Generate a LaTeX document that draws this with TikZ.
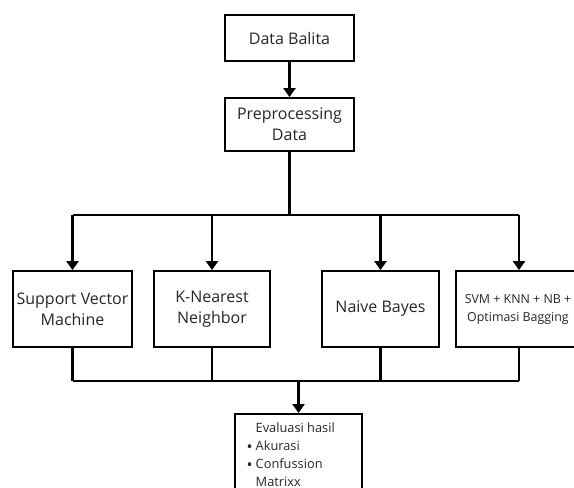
\documentclass[tikz,border=0pt]{standalone}
\usepackage{fontspec}
\setmainfont{Open Sans}
\usetikzlibrary{arrows.meta}
\newcommand{\evbullet}{\raisebox{-2pt}{\fontsize{16}{18}\selectfont•}}
\begin{document}
\begin{tikzpicture}[x=1pt,y=-1pt,
  box/.style={draw=black,line width=1.8pt,inner sep=0pt,align=center,text=black!85,
    font=\fontsize{16}{21}\selectfont},
  conn/.style={line width=2.3pt},
  arr/.style={line width=2.3pt,-{Triangle[width=12pt,length=9pt]}}]
\useasboundingbox (0,0) rectangle (574,488);
\clip (0,0) rectangle (574,488);
% boxes
\node[box,minimum width=129pt,minimum height=46pt] (data) at (289.5,38) {Data Balita};
\node[box,minimum width=129pt,minimum height=53pt] (prep) at (289.5,124.5) {Preprocessing\\Data};
\node[box,minimum width=119pt,minimum height=76pt] (svm) at (72.5,309) {Support Vector\\Machine};
\node[box,minimum width=116pt,minimum height=76pt] (knn) at (212,309) {K-Nearest\\Neighbor};
\node[box,minimum width=117pt,minimum height=76pt] (nb) at (380.5,309) {Naive Bayes};
\node[box,minimum width=124pt,minimum height=76pt,font=\fontsize{12.4}{18}\selectfont] (ens) at (518,309) {SVM + KNN + NB +\\Optimasi Bagging};
\node[box,minimum width=127pt,minimum height=90pt,anchor=north] (eval) at (298.5,413) {};
\node[anchor=base west,inner sep=0pt,text=black!85,font=\fontsize{12.8}{18}\selectfont] (evaltext) at (246.5,432)
  {\begin{tabular}[t]{@{}l@{\hspace{3pt}}l@{}}& Evaluasi hasil\\ \evbullet & Akurasi\\ \evbullet & Confussion\\ & Matrixx\end{tabular}};
% junctions
\coordinate (top) at (289.5,215);
\coordinate (tl) at (72.5,215);
\coordinate (tr) at (519,215);
\coordinate (bl) at (72.5,381);
\coordinate (br) at (519,381);
\coordinate (bm) at (298.5,381);
% connectors
\draw[arr] (data) -- (prep);
\draw[conn] (prep.south) -- (top);
\draw[conn] (tl) -- (tr);
\draw[arr] (tl) -- (svm.north);
\draw[arr] (knn.north |- top) -- (knn.north);
\draw[arr] (nb.north |- top) -- (nb.north);
\draw[arr] (tr) -- (ens.north -| tr);
\draw[conn] (svm.south) -- (bl);
\draw[conn] (knn.south) -- (knn.south |- bl);
\draw[conn] (nb.south) -- (nb.south |- bl);
\draw[conn] (ens.south -| br) -- (br);
\draw[conn] (bl) -- (br);
\draw[arr] (bm) -- (eval.north);
\end{tikzpicture}
\end{document}
